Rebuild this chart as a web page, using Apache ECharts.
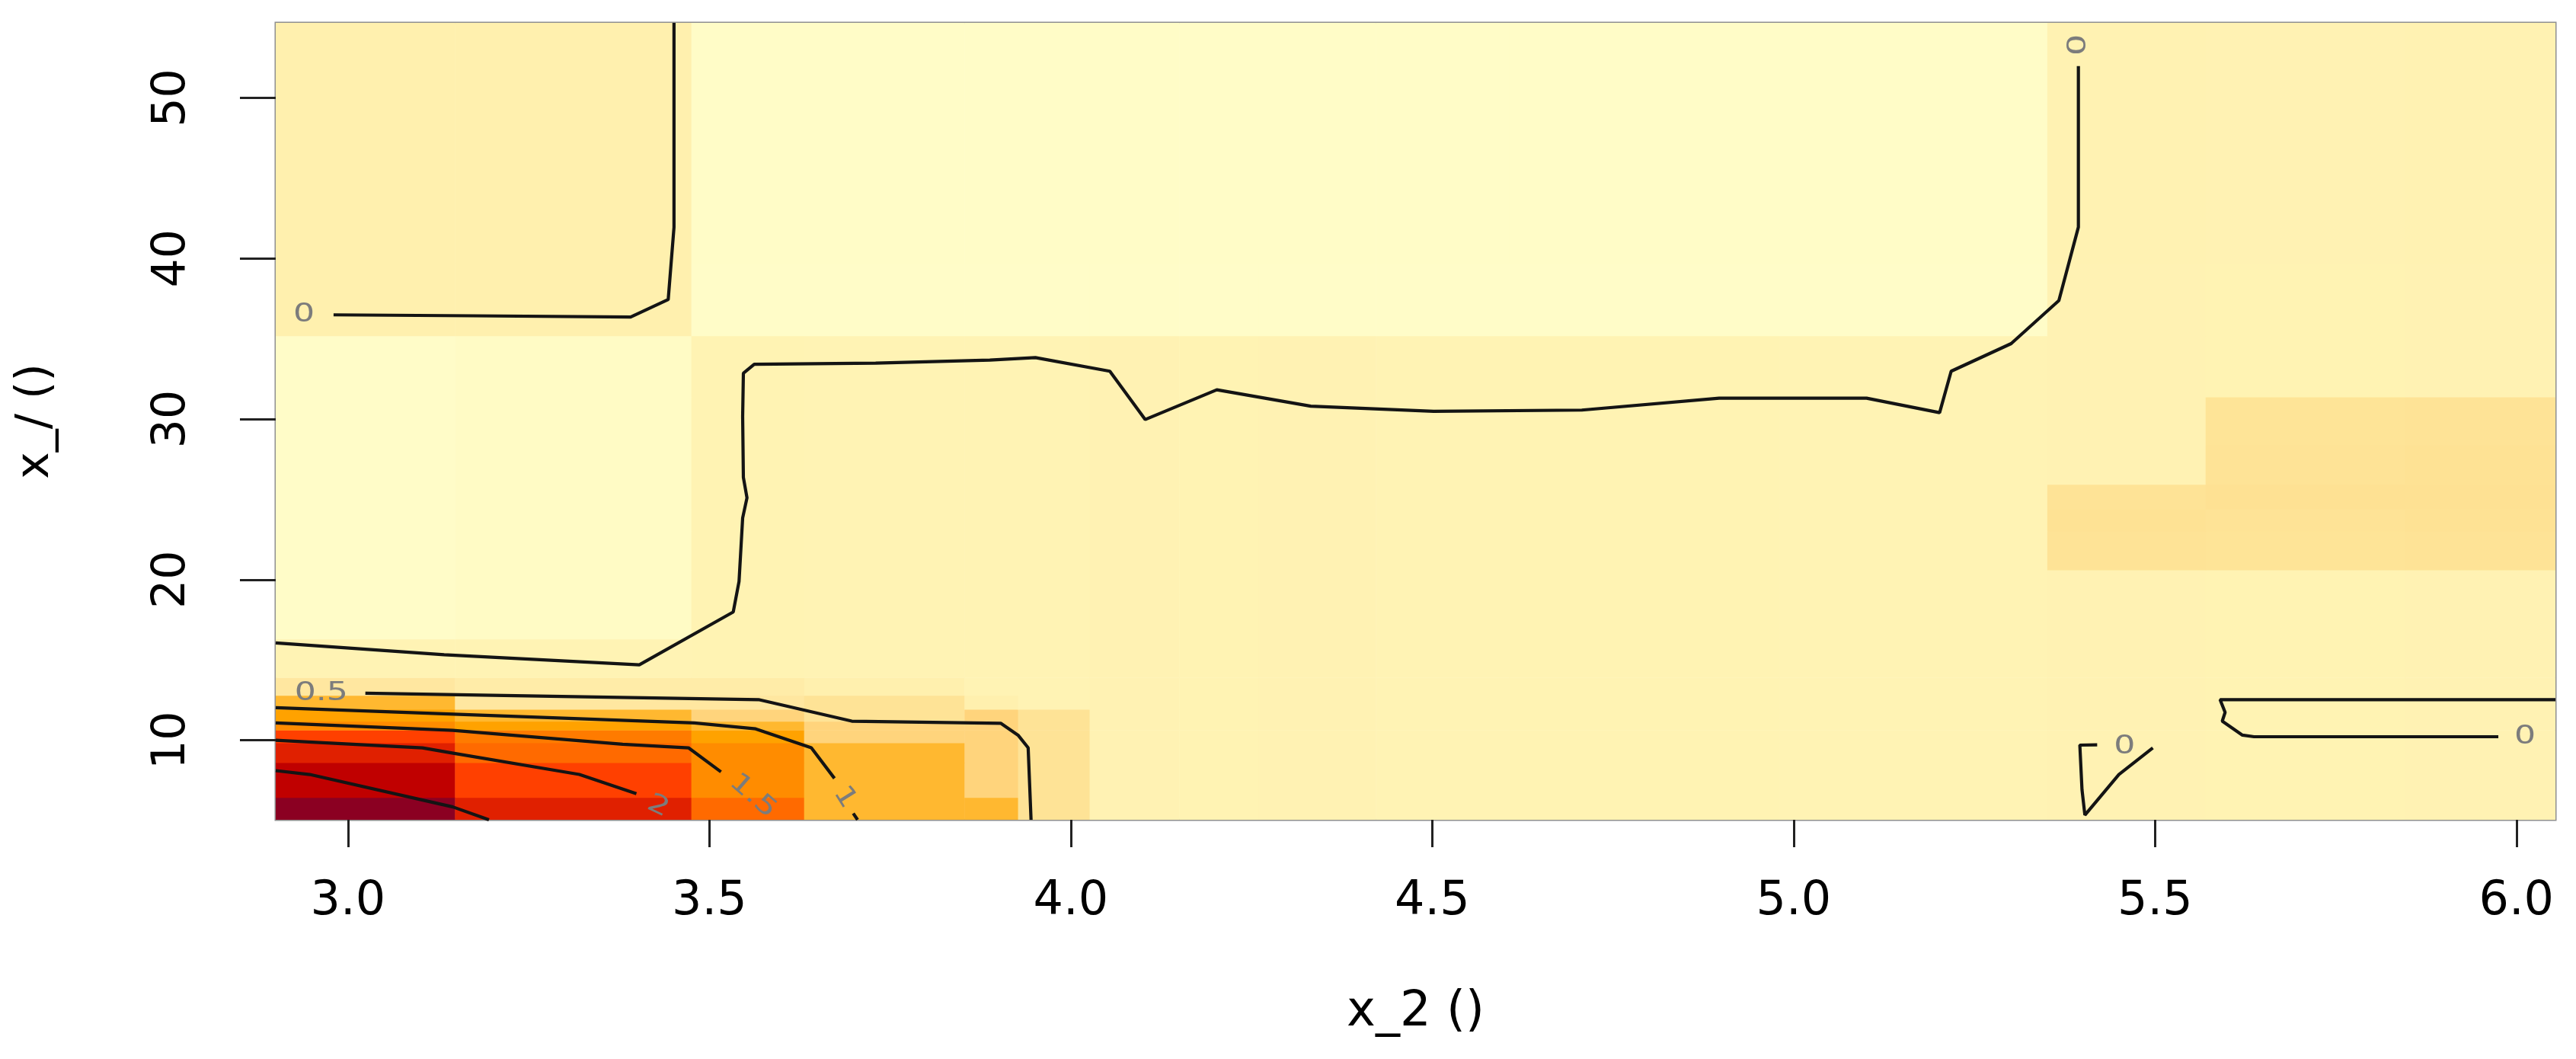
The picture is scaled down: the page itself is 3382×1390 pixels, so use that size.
<!DOCTYPE html>
<html><head><meta charset="utf-8">
<script src="https://cdn.jsdelivr.net/npm/echarts@6/dist/echarts.min.js"></script>
<style>html,body{margin:0;padding:0;background:#fff}#c{width:3382px;height:1390px}</style>
</head><body><div id="c"></div>
<script>
// ---------- data ----------
const xTicks = [3.0, 3.5, 4.0, 4.5, 5.0, 5.5, 6.0];
const yTicks = [10, 20, 30, 40, 50];
const xBreaks = [2.9, 3.148, 3.475, 3.631, 3.853, 3.927, 4.026, 4.150, 4.260, 4.422, 4.607, 4.980, 5.351, 5.570, 5.846, 6.054];
const yBreaks = [5.05, 6.44, 8.61, 9.84, 10.63, 11.18, 11.93, 12.80, 13.91, 16.30, 19.07, 20.61, 23.03, 24.41, 25.93, 28.40, 31.38, 35.18, 39.70, 54.67];
// z values, rows from bottom to top, one value per x cell
const zRows = [
  [2.70, 2.00, 1.40, 0.75, 0.75, 0.28, 0.03, 0.025, 0.03, 0.02, 0.025, 0.02, 0.03, 0.025, 0.03],
  [2.30, 1.70, 1.20, 0.75, 0.45, 0.28, 0.03, 0.025, 0.03, 0.02, 0.025, 0.02, 0.03, 0.025, 0.03],
  [2.00, 1.40, 1.20, 0.75, 0.45, 0.28, 0.03, 0.025, 0.03, 0.02, 0.025, 0.02, 0.03, 0.025, 0.03],
  [1.70, 1.30, 1.00, 0.45, 0.45, 0.28, 0.03, 0.025, 0.03, 0.02, 0.025, 0.02, 0.03, 0.025, 0.03],
  [1.20, 1.00, 0.75, 0.45, 0.45, 0.28, 0.03, 0.025, 0.03, 0.02, 0.025, 0.02, 0.03, 0.025, 0.03],
  [1.00, 0.75, 0.45, 0.28, 0.45, 0.28, 0.03, 0.025, 0.03, 0.02, 0.025, 0.02, 0.03, 0.025, 0.03],
  [0.75, 0.20, 0.20, 0.28, 0.06, 0.02, 0.03, 0.025, 0.03, 0.02, 0.025, 0.02, 0.03, 0.025, 0.03],
  [0.20, 0.12, 0.12, 0.06, 0.02, 0.02, 0.03, 0.025, 0.03, 0.02, 0.025, 0.02, 0.03, 0.025, 0.03],
  [0.02, 0.02, 0.025, 0.02, 0.02, 0.02, 0.03, 0.025, 0.03, 0.02, 0.025, 0.02, 0.03, 0.025, 0.03],
  [-0.06, -0.05, 0.025, 0.02, 0.02, 0.02, 0.03, 0.025, 0.03, 0.02, 0.025, 0.02, 0.03, 0.025, 0.03],
  [-0.06, -0.05, 0.025, 0.02, 0.02, 0.02, 0.03, 0.025, 0.03, 0.02, 0.025, 0.02, 0.03, 0.025, 0.03],
  [-0.06, -0.05, 0.025, 0.02, 0.02, 0.02, 0.03, 0.025, 0.03, 0.02, 0.025, 0.02, 0.28, 0.27, 0.28],
  [-0.06, -0.05, 0.025, 0.02, 0.02, 0.02, 0.03, 0.025, 0.03, 0.02, 0.025, 0.02, 0.29, 0.28, 0.29],
  [-0.06, -0.05, 0.025, 0.02, 0.02, 0.02, 0.03, 0.025, 0.03, 0.02, 0.025, 0.02, 0.28, 0.30, 0.30],
  [-0.06, -0.05, 0.025, 0.02, 0.02, 0.02, 0.03, 0.025, 0.03, 0.02, 0.025, 0.02, 0.03, 0.28, 0.29],
  [-0.06, -0.05, 0.025, 0.02, 0.02, 0.02, 0.03, 0.025, 0.03, 0.02, 0.025, 0.02, 0.03, 0.27, 0.28],
  [-0.06, -0.05, 0.025, 0.02, 0.02, 0.02, 0.03, 0.025, 0.03, 0.02, 0.025, 0.02, 0.03, 0.025, 0.03],
  [0.06, 0.06, -0.06, -0.06, -0.06, -0.06, -0.06, -0.06, -0.06, -0.06, -0.06, -0.06, 0.03, 0.025, 0.03],
  [0.06, 0.06, -0.055, -0.055, -0.055, -0.055, -0.055, -0.055, -0.055, -0.055, -0.055, -0.055, 0.035, 0.03, 0.035]
];
// contour lines (x_2, x_/)
const contour0a = [[2.980,36.49],[3.173,36.43],[3.391,36.35],[3.443,37.44],[3.451,41.94],[3.451,46.84],[3.451,54.67]];
const contour0b = [[2.900,16.06],[3.133,15.33],[3.403,14.70],[3.533,17.99],[3.541,19.89],[3.546,23.84],[3.552,25.10],[3.547,26.37],[3.546,30.16],[3.547,32.85],[3.562,33.41],[3.730,33.48],[3.888,33.67],[3.951,33.83],[4.054,32.98],[4.103,29.97],[4.202,31.82],[4.332,30.80],[4.502,30.48],[4.707,30.56],[4.897,31.30],[5.101,31.30],[5.202,30.40],[5.218,32.98],[5.301,34.70],[5.367,37.38],[5.394,41.95],[5.394,46.32],[5.394,51.98]];
const contour0c = [[5.420,9.72],[5.396,9.70],[5.399,6.92],[5.403,5.34],[5.450,7.87],[5.497,9.53]];
const contour0d = [[6.054,12.53],[5.590,12.53],[5.597,11.74],[5.593,11.19],[5.621,10.32],[5.637,10.22],[5.975,10.22]];
const contour05 = [[3.024,12.93],[3.568,12.53],[3.697,11.19],[3.903,11.06],[3.927,10.32],[3.941,9.53],[3.945,5.05]];
const contour1a = [[2.900,12.03],[3.479,11.08],[3.564,10.71],[3.641,9.53],[3.673,7.63]];
const contour1b = [[3.699,5.45],[3.705,5.05]];
const contour15 = [[2.900,11.08],[3.145,10.62],[3.380,9.75],[3.471,9.53],[3.516,8.03]];
const contour2 = [[2.900,10.00],[3.103,9.525],[3.144,9.21],[3.320,7.87],[3.399,6.68]];
const contour25 = [[2.900,8.11],[2.947,7.87],[3.145,5.85],[3.195,5.05]];
const contourLines = [contour0a, contour0b, contour0c, contour0d, contour05, contour1a, contour1b, contour15, contour2, contour25];
// contour labels: x, y, rotation in degrees
const labelTexts = ['0.5', '0', '0', '0', '0', '1', '1.5', '2'];
const labelPos = [[2.963,12.93,0],[2.939,36.49,0],[5.394,53.30,90],[5.458,9.61,0],[6.012,10.20,0],[3.687,6.45,-58],[3.560,6.52,-41],[3.429,5.88,-25]];

// ---------- colour scale ----------
const colorStops = [[-0.06,'#FFFCC8'],[-0.04,'#FFFAC2'],[0.02,'#FFF3B4'],[0.06,'#FFF0AE'],[0.12,'#FFECA8'],[0.2,'#FFE7A0'],[0.28,'#FEE396'],[0.45,'#FFD47C'],[0.75,'#FFB830'],[1.0,'#FFA200'],[1.2,'#FF8C00'],[1.4,'#FF6A00'],[1.7,'#FF4000'],[2.0,'#E02000'],[2.3,'#C00000'],[2.7,'#8B0022']];
function hex(h){return [parseInt(h.slice(1,3),16),parseInt(h.slice(3,5),16),parseInt(h.slice(5,7),16)];}
function colorOf(v){
  if (v <= colorStops[0][0]) return colorStops[0][1];
  for (let i=0;i<colorStops.length-1;i++){
    const a=colorStops[i], b=colorStops[i+1];
    if (v<=b[0]){
      const t=(v-a[0])/(b[0]-a[0]); const ca=hex(a[1]), cb=hex(b[1]);
      return 'rgb('+ca.map((c,k)=>Math.round(c+(cb[k]-c)*t)).join(',')+')';
    }
  }
  return colorStops[colorStops.length-1][1];
}

const cells = [];
for (let r=0;r<zRows.length;r++) for (let c=0;c<xBreaks.length-1;c++)
  cells.push([xBreaks[c], xBreaks[c+1], yBreaks[r], yBreaks[r+1], zRows[r][c]]);

const chart = echarts.init(document.getElementById('c'), null, {renderer:'canvas'});
const series = [{
  type:'custom', data: cells, encode:{x:[0,1], y:[2,3]}, clip:true, silent:true, z:1,
  renderItem(params, api){
    const a = api.coord([api.value(0), api.value(3)]);
    const b = api.coord([api.value(1), api.value(2)]);
    return {type:'rect', shape:{x:a[0], y:a[1], width:b[0]-a[0]+0.5, height:b[1]-a[1]+0.5}, style:{fill: colorOf(api.value(4))}};
  }
}];
contourLines.forEach(l => series.push({
  type:'line', data:l, symbol:'none', showSymbol:false, silent:true, z:3, clip:true,
  lineStyle:{color:'#141414', width:4.2}
}));
series.push({
  type:'custom', data: labelPos, encode:{x:0, y:1}, silent:true, z:4,
  renderItem(params, api){
    const p = api.coord([api.value(0), api.value(1)]);
    return {type:'text', x:p[0], y:p[1], rotation: api.value(2)*Math.PI/180, scaleX:1.3,
      style:{text: labelTexts[params.dataIndex], fill:'#7c7c7c', fontSize:34, fontFamily:'DejaVu Sans', align:'center', verticalAlign:'middle'}};
  }
});

chart.setOption({
  animation:false,
  backgroundColor:'#ffffff',
  grid:{left:362, top:30, width:2993, height:1046, show:true, borderColor:'#8f8f8f', borderWidth:3, backgroundColor:'transparent', outerBoundsMode:'none'},
  xAxis:{type:'value', min:2.9, max:6.054,
    name:'x_2 ()', nameLocation:'middle', nameGap:221, nameMoveOverlap:false,
    nameTextStyle:{fontSize:64, fontFamily:'DejaVu Sans', color:'#000'},
    axisLine:{show:false}, splitLine:{show:false},
    axisTick:{show:true, customValues:xTicks, length:36, lineStyle:{color:'#222', width:3}},
    axisLabel:{customValues:xTicks, formatter:v=>v.toFixed(1), fontSize:62, fontFamily:'DejaVu Sans', color:'#000', margin:77}
  },
  yAxis:{type:'value', min:5.05, max:54.67,
    name:'x_/ ()', nameLocation:'middle', nameGap:285, nameMoveOverlap:false,
    nameTextStyle:{fontSize:60, fontFamily:'DejaVu Sans', color:'#000'},
    axisLine:{show:false}, splitLine:{show:false},
    axisTick:{show:true, customValues:yTicks, length:47, lineStyle:{color:'#222', width:3}},
    axisLabel:{customValues:yTicks, rotate:90, fontSize:60, fontFamily:'DejaVu Sans', color:'#000', margin:106}
  },
  series
});
</script></body></html>
